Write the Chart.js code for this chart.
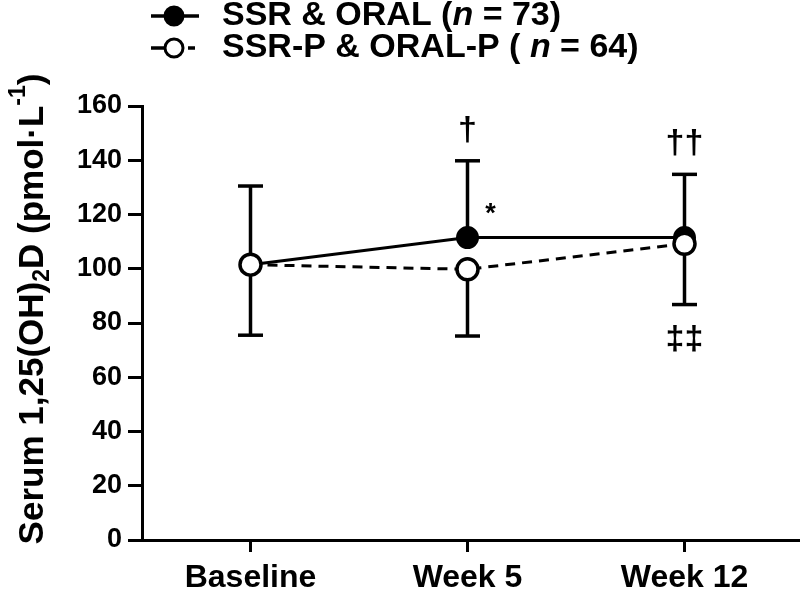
<!DOCTYPE html>
<html>
<head>
<meta charset="utf-8">
<script src="https://cdn.jsdelivr.net/npm/chart.js@4.4.1/dist/chart.umd.min.js"></script>
<style>
html,body{margin:0;padding:0;background:#fff;}
canvas{display:block;}
</style>
</head>
<body>
<canvas id="c" width="800" height="592"></canvas>
<script>
// ---- data ----
const categories = ['Baseline', 'Week 5', 'Week 12'];
const activeMean  = [101.5, 111.5, 111.5];
const activeUpper = [130.5, 139.8, 134.8];
const placeboMean  = [101.5, 99.8, 109.2];
const placeboLower = [75.5, 75.2, 86.8];
const yTickValues = [0, 20, 40, 60, 80, 100, 120, 140, 160];
const seriesNames = ['SSR & ORAL (', 'SSR-P & ORAL-P ( '];
const seriesN = ['73', '64'];
const markTexts  = ['\u2020', '*', '\u2020\u2020', '\u2021\u2021'];
const markCats   = ['Week 5', 'Week 5', 'Week 12', 'Week 12'];
const markValues = [151, 120, 146, 74];
const yTitleParts = ['Serum 1,25(OH)', '2', 'D (pmol\u00B7L', '-1', ')'];

const FAM = '"Liberation Sans", Arial, sans-serif';

const errorBars = {
  id: 'errorBars',
  beforeDatasetsDraw(chart) {
    const ctx = chart.ctx, xs = chart.scales.x, ys = chart.scales.y;
    ctx.save();
    ctx.strokeStyle = '#000'; ctx.lineWidth = 3.5; ctx.lineCap = 'butt';
    const draw = (means, ends) => {
      means.forEach((m, i) => {
        const e = ends[i];
        if (e == null) return;
        const x = xs.getPixelForValue(i);
        const y0 = ys.getPixelForValue(m), y1 = ys.getPixelForValue(e);
        ctx.beginPath(); ctx.moveTo(x, y0); ctx.lineTo(x, y1); ctx.stroke();
        ctx.beginPath(); ctx.moveTo(x - 12.5, y1); ctx.lineTo(x + 12.5, y1); ctx.stroke();
      });
    };
    draw(activeMean, activeUpper);
    draw(placeboMean, placeboLower);
    ctx.restore();
  }
};

const extras = {
  id: 'extras',
  afterDraw(chart) {
    const ctx = chart.ctx, xs = chart.scales.x, ys = chart.scales.y;
    ctx.save();
    ctx.fillStyle = '#000'; ctx.strokeStyle = '#000';
    // extend x axis line to the right edge
    const yb = Math.round(xs.top - 1.5) + 1.5;
    ctx.lineWidth = 3;
    ctx.beginPath(); ctx.moveTo(xs.right - 2, yb); ctx.lineTo(chart.width, yb); ctx.stroke();
    // significance marks
    markTexts.forEach((t, i) => {
      const x = xs.getPixelForValue(categories.indexOf(markCats[i])) + (t === '*' ? 23 : 0);
      const y = ys.getPixelForValue(markValues[i]);
      ctx.font = (t === '*' ? 'bold 27px ' : 'bold 34px ') + FAM;
      ctx.textAlign = 'center'; ctx.textBaseline = 'middle';
      ctx.fillText(t, x, y);
    });
    // legend
    const rows = [16, 48];
    rows.forEach((ry, i) => {
      ctx.lineWidth = 3.5;
      if (i === 0) {
        ctx.beginPath(); ctx.moveTo(151, ry); ctx.lineTo(199, ry); ctx.stroke();
      } else {
        ctx.beginPath(); ctx.moveTo(151, ry); ctx.lineTo(164, ry); ctx.stroke();
        ctx.beginPath(); ctx.moveTo(188, ry); ctx.lineTo(195, ry); ctx.stroke();
      }
      ctx.beginPath(); ctx.arc(174, ry, 9, 0, Math.PI * 2);
      ctx.fillStyle = i === 0 ? '#000' : '#fff'; ctx.fill();
      ctx.lineWidth = 3; ctx.stroke();
      ctx.fillStyle = '#000';
      ctx.textAlign = 'left'; ctx.textBaseline = 'middle';
      let x = 222;
      ctx.font = 'bold 34px ' + FAM;
      ctx.fillText(seriesNames[i], x, ry); x += ctx.measureText(seriesNames[i]).width;
      ctx.font = 'italic bold 34px ' + FAM;
      ctx.fillText('n', x, ry); x += ctx.measureText('n').width;
      ctx.font = 'bold 34px ' + FAM;
      ctx.fillText(' = ' + seriesN[i] + ')', x, ry);
    });
    // y title
    ctx.translate(33, 309);
    ctx.rotate(-Math.PI / 2);
    const big = 'bold 35px ' + FAM, small = 'bold 23px ' + FAM;
    const fonts = [big, small, big, small, big];
    const offs = [0, 10, 0, -14, 0];
    let total = 0;
    yTitleParts.forEach((p, i) => { ctx.font = fonts[i]; total += ctx.measureText(p).width; });
    let x = -total / 2;
    ctx.textAlign = 'left'; ctx.textBaseline = 'middle';
    yTitleParts.forEach((p, i) => {
      ctx.font = fonts[i];
      ctx.fillText(p, x, offs[i]);
      x += ctx.measureText(p).width;
    });
    ctx.restore();
  }
};

new Chart(document.getElementById('c'), {
  type: 'line',
  data: {
    labels: categories,
    datasets: [
      {
        label: 'SSR & ORAL', data: activeMean, order: 1,
        borderColor: '#000', borderWidth: 3, tension: 0,
        pointRadius: 10.5, pointBorderWidth: 2,
        pointBackgroundColor: '#000', pointBorderColor: '#000'
      },
      {
        label: 'SSR-P & ORAL-P', data: placeboMean, order: 0,
        borderColor: '#000', borderWidth: 3, borderDash: [10, 7], tension: 0,
        pointRadius: 10.5, pointBorderWidth: 3.5,
        pointBackgroundColor: '#fff', pointBorderColor: '#000'
      }
    ]
  },
  options: {
    responsive: false, animation: false, devicePixelRatio: 1,
    layout: { autoPadding: false, padding: { top: 106, right: 7, left: 0, bottom: 0 } },
    plugins: { legend: { display: false }, tooltip: { enabled: false } },
    scales: {
      x: {
        offset: true,
        grid: { drawOnChartArea: false, drawTicks: true, tickLength: 12, color: '#000', lineWidth: 3 },
        border: { display: true, color: '#000', width: 3 },
        ticks: { color: '#000', padding: 7, font: { family: FAM, size: 32, weight: 'bold' } },
        afterFit(s) { s.height = 52; }
      },
      y: {
        min: 0, max: 160,
        afterBuildTicks(s) { s.ticks = yTickValues.map(v => ({ value: v })); },
        grid: { drawOnChartArea: false, drawTicks: true, tickLength: 14, color: '#000', lineWidth: 3 },
        border: { display: true, color: '#000', width: 3 },
        ticks: { color: '#000', padding: 6, font: { family: FAM, size: 27, weight: 'bold' } },
        afterFit(s) { s.width = 142; }
      }
    }
  },
  plugins: [errorBars, extras]
});
</script>
</body>
</html>
